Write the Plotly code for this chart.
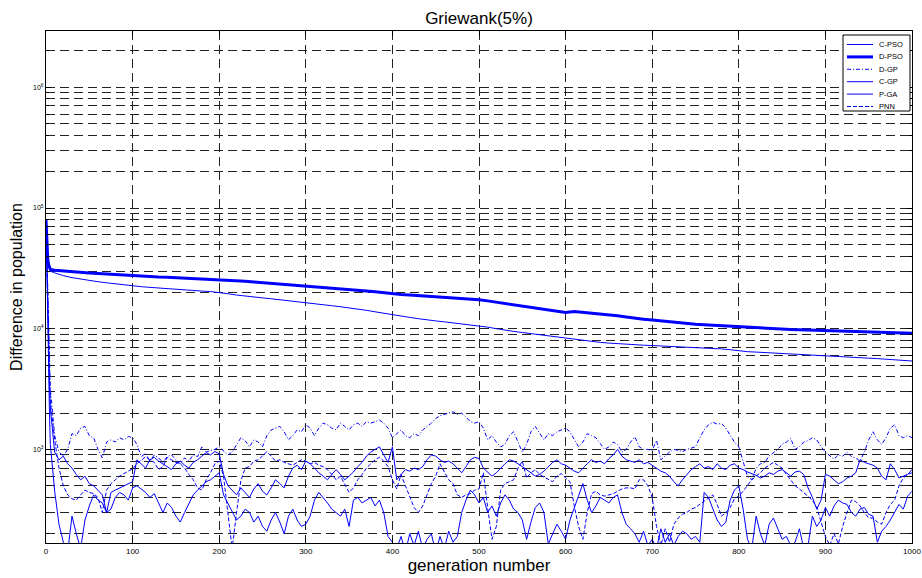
import plotly.graph_objects as go

# ---- generations -------------------------------------------------------
gen_early = [0, 1, 2, 3, 4]
gen_smooth = gen_early + [5] + list(range(10, 1001, 10))
gen_noisy = gen_early + list(range(5, 1001, 5))

# ---- smooth PSO curves (sampled every 10 generations) -------------------
c_pso = [80000, 42000, 36000, 33000, 31000, 30000,
         29000, 27500, 26500, 25700, 25000, 24500, 24000, 23500, 23000, 22600,
         22300, 22000, 21700, 21500, 21200, 21000, 20800, 20500, 20300, 20000,
         19500, 19000, 18600, 18300, 18000, 17700, 17400, 17100, 16800, 16400,
         16100, 15800, 15500, 15200, 14900, 14500, 14200, 13800, 13400, 13000,
         12700, 12400, 12100, 11800, 11600, 11400, 11200, 11000, 10800, 10600,
         10300, 10000, 9700, 9500, 9300, 9100, 8900, 8700, 8550, 8400,
         8200, 8000, 7800, 7700, 7600, 7500, 7400, 7350, 7300, 7250,
         7200, 7100, 7000, 6950, 6900, 6880, 6850, 6800, 6700, 6540,
         6450, 6400, 6350, 6300, 6250, 6200, 6150, 6100, 6050, 5970,
         5900, 5850, 5800, 5750, 5700, 5650, 5600, 5500, 5450, 5400]

d_pso = [80000, 45000, 38000, 34000, 32000, 31000,
         30500, 30000, 29600, 29200, 28900, 28600, 28300, 28000, 27700, 27400,
         27200, 27000, 26800, 26700, 26500, 26300, 26100, 25900, 25800, 25600,
         25300, 25000, 24700, 24400, 24100, 23800, 23500, 23200, 22900, 22600,
         22300, 22000, 21700, 21400, 21100, 20800, 20500, 20200, 19800, 19500,
         19200, 19000, 18800, 18600, 18400, 18200, 18000, 17800, 17600, 17400,
         17000, 16600, 16200, 15800, 15400, 15000, 14700, 14400, 14000, 13600,
         13900, 13700, 13400, 13200, 13000, 12800, 12500, 12200, 12000, 11800,
         11600, 11400, 11200, 11000, 10900, 10800, 10700, 10600, 10400, 10300,
         10200, 10100, 10000, 9950, 9900, 9850, 9800, 9750, 9700, 9650,
         9600, 9550, 9500, 9450, 9400, 9350, 9300, 9250, 9200, 9150]

# ---- noisy GP / GA / PNN curves (sampled every 5 generations) -----------
d_gp = [80000, 40000, 18000, 9000, 5000,
        3200, 1300, 950, 880, 1000, 1350, 1300, 1500, 1550, 1300,
        1250, 1000, 850, 1150, 1200, 1150, 1250, 1200, 1280, 1250,
        1100, 870, 930, 800, 900, 850, 780, 870, 900, 820,
        760, 850, 800, 900, 870, 1050, 950, 980, 1000, 1050,
        980, 900, 950, 1100, 1250, 1180, 1050, 1200, 1150, 1050,
        1300, 1450, 1500, 1550, 1400, 1200, 1300, 1450, 1400, 1600,
        1500, 1300, 1500, 1650, 1600, 1500, 1450, 1650, 1550, 1450,
        1600, 1650, 1550, 1700, 1650, 1700, 1750, 1650, 1500, 1250,
        1350, 1450, 1300, 1250, 1350, 1300, 1450, 1550, 1650, 1800,
        1900, 1950, 2000, 2050, 1950, 2000, 1850, 1700, 1650, 1700,
        1500, 1200, 1300, 1150, 1050, 1100, 1300, 1400, 1150, 950,
        1100, 1400, 1550, 1350, 1200, 1350, 1300, 1400, 1450, 1500,
        1400, 1200, 1050, 1150, 1350, 1300, 1250, 1120, 1000, 1050,
        1150, 1100, 950, 1000, 1150, 1270, 1050, 1000, 1000, 980,
        1190, 820, 880, 950, 1000, 980, 960, 1000, 1020, 1050,
        1250, 1450, 1600, 1680, 1620, 1640, 1500, 1300, 1150, 1050,
        800, 600, 560, 700, 760, 780, 880, 940, 1000, 1100,
        1150, 1230, 1000, 1050, 1150, 1180, 1250, 1200, 1050, 950,
        880, 830, 900, 880, 950, 870, 850, 800, 950, 1200,
        1400, 1200, 1100, 1250, 1500, 1600, 1300, 1250, 1300, 1250]

c_gp = [80000, 30000, 12000, 6000, 3500,
        2200, 950, 820, 880, 760, 700, 620, 560, 600, 520,
        500, 460, 420, 300, 440, 460, 480, 500, 520, 540,
        820, 760, 700, 820, 860, 800, 760, 720, 680, 760,
        800, 740, 700, 780, 820, 880, 940, 900, 960, 920,
        620, 500, 460, 420, 480, 440, 400, 470, 520, 450,
        420, 480, 560, 520, 480, 600, 700, 740, 680, 800,
        760, 700, 640, 600, 560, 620, 680, 620, 560, 600,
        650, 720, 780, 880, 950, 1000, 1050, 900, 780, 1050,
        560, 620, 680, 660, 700, 680, 720, 820, 900, 880,
        820, 780, 800, 760, 700, 640, 720, 820, 860, 840,
        700, 650, 600, 640, 700, 760, 820, 800, 760, 720,
        680, 640, 600, 620, 660, 720, 780, 820, 760, 740,
        700, 660, 640, 700, 760, 820, 780, 800, 760, 840,
        900, 1000, 880, 820, 800, 780, 820, 760, 780, 740,
        700, 660, 640, 600, 540, 500, 560, 620, 680, 720,
        760, 700, 720, 680, 760, 700, 680, 740, 760, 700,
        680, 650, 630, 610, 580, 600, 640, 620, 660, 680,
        640, 600, 650, 660, 620, 480, 400, 320, 380, 620,
        600, 560, 520, 540, 580, 600, 640, 820, 780, 760,
        740, 700, 600, 560, 760, 680, 580, 600, 620, 680]

p_ga = [80000, 25000, 9000, 4000, 2000,
        1100, 450, 240, 170, 140, 280, 200, 150, 260, 340,
        420, 380, 360, 300, 320, 400, 440, 420, 380, 480,
        500, 470, 440, 400, 430, 360, 300, 360, 330, 280,
        250, 300, 360, 420, 460, 500, 540, 560, 600, 640,
        420, 360, 300, 260, 280, 320, 300, 250, 280, 230,
        210, 260, 300, 250, 200, 280, 320, 260, 230, 240,
        280, 380, 440, 400, 360, 320, 300, 280, 320, 230,
        380, 400, 360, 380, 400, 340, 380, 300, 190, 170,
        150, 190, 140, 200, 160, 210, 150, 180, 200, 140,
        190, 150, 210, 170, 190, 300, 380, 460, 420, 360,
        400, 300, 340, 280, 360, 420, 380, 320, 300, 260,
        180, 250, 330, 360, 300, 165, 200, 240, 210, 180,
        260, 330, 420, 520, 380, 300, 340, 400, 380, 360,
        400, 420, 300, 240, 220, 200, 170, 210, 160, 180,
        150, 220, 170, 200, 160, 190, 210, 200, 180, 190,
        170, 440, 400, 320, 260, 230, 250, 380, 460, 500,
        320, 180, 150, 280, 200, 160, 240, 270, 220, 180,
        190, 160, 170, 220, 150, 160, 280, 230, 260, 330,
        280, 340, 380, 360, 350, 300, 280, 320, 330, 290,
        280, 170, 210, 230, 260, 300, 350, 320, 410, 450]

pnn = [80000, 35000, 15000, 7000, 4000,
       2500, 1200, 700, 500, 420, 390, 380, 420, 460, 440,
       430, 400, 300, 460, 520, 560, 600, 630, 660, 690,
       760, 820, 870, 820, 780, 680, 720, 860, 820, 780,
       760, 700, 620, 560, 480, 460, 560, 640, 760, 800,
       600, 300, 150, 300, 550, 700, 720, 800, 820, 880,
       960, 880, 800, 820, 780, 760, 740, 780, 820, 800,
       760, 780, 740, 720, 680, 620, 560, 600, 520, 440,
       480, 560, 620, 700, 760, 820, 860, 800, 720, 560,
       470, 620, 500, 400, 330, 300, 340, 420, 520, 600,
       760, 650, 560, 520, 420, 400, 420, 430, 460, 470,
       640, 330, 180, 230, 460, 520, 540, 560, 700, 800,
       580, 640, 680, 620, 590, 560, 540, 600, 630, 580,
       540, 340, 230, 180, 300, 430, 450, 420, 410, 420,
       430, 450, 470, 480, 480, 470, 560, 560, 500, 400,
       230, 160, 220, 170, 240, 270, 290, 300, 320, 330,
       350, 370, 390, 420, 350, 280, 300, 330, 390, 410,
       450, 500, 560, 600, 640, 700, 740, 780, 740, 700,
       620, 560, 500, 470, 440, 410, 380, 330, 250, 190,
       160, 200, 165, 230, 300, 380, 370, 340, 300, 270,
       270, 250, 240, 300, 350, 380, 500, 580, 620, 640]

# ---- axis ticks ----------------------------------------------------------
x_ticks = list(range(0, 1001, 100))
y_major = [1e3, 1e4, 1e5, 1e6]
y_major_text = ["10<sup>3</sup>", "10<sup>4</sup>", "10<sup>5</sup>", "10<sup>6</sup>"]
y_minor = [m * 10 ** e for e in range(2, 7) for m in range(2, 10)]

BLUE = "#0000ff"
FONT = "Liberation Sans, Arial, sans-serif"
W, H = 922, 578
ML, MR, MT, MB = 46, 10, 31, 35

series = [
    ("C-PSO", gen_smooth, c_pso, dict(width=1, dash="solid")),
    ("D-PSO", gen_smooth, d_pso, dict(width=3, dash="solid")),
    ("D-GP", gen_noisy, d_gp, dict(width=1, dash="4px,2px,1px,2px")),
    ("C-GP", gen_noisy, c_gp, dict(width=1, dash="solid")),
    ("P-GA", gen_noisy, p_ga, dict(width=1, dash="solid")),
    ("PNN", gen_noisy, pnn, dict(width=1, dash="4px,2px")),
]

fig = go.Figure()
for name, xs, ys, style in series:
    fig.add_trace(go.Scatter(x=xs, y=ys, mode="lines", name=name,
                             showlegend=False,
                             line=dict(color=BLUE, **style)))


# compact boxed legend in the upper-right corner, laid out in pixels
def px(x):
    return (x - ML) / (W - ML - MR)


def py(y):
    return (H - MB - y) / (H - MT - MB)


box_l, box_r, box_t, box_b = 843, 910, 35, 111
row0, row_step = 44.5, 12.4
shapes = [dict(type="rect", xref="paper", yref="paper",
               x0=px(box_l), x1=px(box_r), y0=py(box_b), y1=py(box_t),
               fillcolor="white", line=dict(color="black", width=1),
               layer="above")]
annotations = []
for i, (name, _, _, style) in enumerate(series):
    yy = row0 + i * row_step
    shapes.append(dict(type="line", xref="paper", yref="paper",
                       x0=px(847), x1=px(873), y0=py(yy), y1=py(yy),
                       line=dict(color=BLUE, width=style["width"],
                                 dash=style["dash"]),
                       layer="above"))
    annotations.append(dict(text=name, xref="paper", yref="paper",
                            x=px(877), y=py(yy), xanchor="left",
                            yanchor="middle", showarrow=False,
                            font=dict(size=7.5, family=FONT, color="black")))

grid_dash = "9px,5px"
fig.update_layout(
    width=W, height=H,
    margin=dict(l=ML, r=MR, t=MT, b=MB, autoexpand=False),
    paper_bgcolor="white", plot_bgcolor="white",
    font=dict(family=FONT, color="black"),
    title=dict(text="Griewank(5%)", x=0.5195, xanchor="center",
               y=0.968, yanchor="middle", font=dict(size=17)),
    showlegend=False,
    shapes=shapes,
    annotations=annotations,
)
fig.update_xaxes(
    range=[0, 1000], tickvals=x_ticks, ticks="inside", ticklen=5,
    tickcolor="black", showline=True, linecolor="black", linewidth=1,
    mirror="ticks", showgrid=True, gridcolor="#222", gridwidth=1,
    griddash=grid_dash, zeroline=False, tickfont=dict(size=8),
    automargin=False,
    title=dict(text="generation number", font=dict(size=17), standoff=2),
)
fig.update_yaxes(
    type="log", range=[2.2245, 6.4664], tickvals=y_major, ticktext=y_major_text,
    ticks="inside", ticklen=5, tickcolor="black", showline=True,
    linecolor="black", linewidth=1, mirror="ticks", showgrid=True,
    gridcolor="#222", gridwidth=1, griddash=grid_dash, zeroline=False,
    tickfont=dict(size=7), automargin=False,
    minor=dict(tickvals=y_minor, ticks="inside", ticklen=3, tickcolor="black",
               showgrid=True, gridcolor="#222", gridwidth=1, griddash=grid_dash),
    title=dict(text="Difference in population", font=dict(size=16), standoff=6),
)

fig.write_html("out.html")
